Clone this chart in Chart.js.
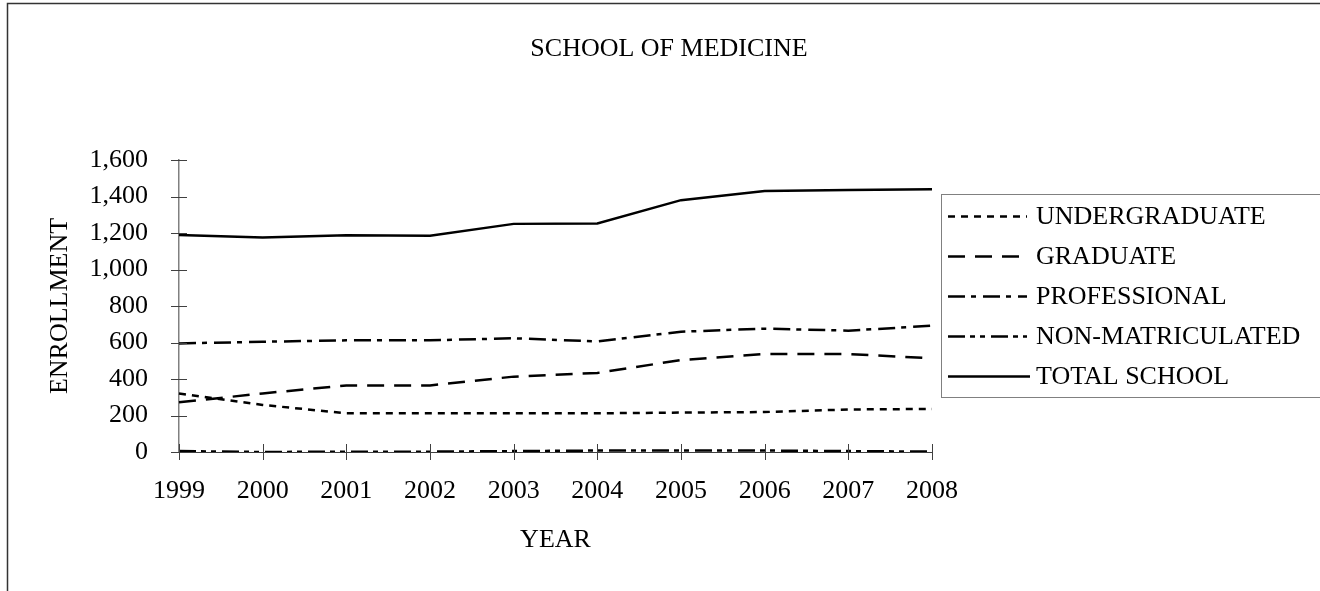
<!DOCTYPE html>
<html>
<head>
<meta charset="utf-8">
<script src="https://cdn.jsdelivr.net/npm/chart.js@4/dist/chart.umd.min.js"></script>
<style>
  html, body { margin: 0; padding: 0; background: #fff; }
  #wrap { width: 1320px; height: 591px; }
</style>
</head>
<body>
<div id="wrap"><canvas id="grafico" width="1320" height="591"></canvas></div>
<script>
// Datos
const years = ["1999", "2000", "2001", "2002", "2003", "2004", "2005", "2006", "2007", "2008"];
const undergraduate = [320, 258, 212, 212, 212, 212, 216, 219, 233, 236];
const graduate = [272, 321, 365, 365, 413, 433, 504, 537, 537, 513];
const professional = [595, 604, 612, 612, 623, 606, 659, 676, 665, 692];
const nonMatriculated = [5, 0, 2, 2, 5, 8, 8, 8, 5, 2];
const totalSchool = [1189, 1176, 1187, 1185, 1250, 1252, 1380, 1430, 1436, 1440];
const seriesNames = ["UNDERGRADUATE", "GRADUATE", "PROFESSIONAL", "NON-MATRICULATED", "TOTAL SCHOOL"];
const yTicks = [0, 200, 400, 600, 800, 1000, 1200, 1400, 1600];

const FONT = "'Liberation Serif', 'Times New Roman', serif";
const SIZE = 26;

function serie(label, data, dash) {
  return {
    label: label,
    data: data,
    borderColor: "#000",
    backgroundColor: "#000",
    borderWidth: 2.5,
    borderDash: dash,
    borderCapStyle: "butt",
    pointRadius: 0,
    tension: 0,
    fill: false,
  };
}

// titulo, marco, marcas de los ejes y leyenda
const extras = {
  id: "extras",
  beforeDraw(chart) {
    const ctx = chart.ctx;
    ctx.save();
    ctx.fillStyle = "#fff";
    ctx.fillRect(0, 0, chart.width, chart.height);
    ctx.strokeStyle = "#333";
    ctx.lineWidth = 1.5;
    ctx.beginPath();
    ctx.moveTo(7.5, chart.height + 5);
    ctx.lineTo(7.5, 3.5);
    ctx.lineTo(chart.width + 5, 3.5);
    ctx.stroke();
    ctx.restore();
  },
  afterDraw(chart) {
    const ctx = chart.ctx;
    const xs = chart.scales.x;
    const ys = chart.scales.y;
    ctx.save();

    // titulo
    ctx.fillStyle = "#000";
    ctx.font = SIZE + "px " + FONT;
    ctx.textAlign = "center";
    ctx.textBaseline = "middle";
    ctx.fillText("SCHOOL OF MEDICINE", 669, 49);

    // marcas de los ejes (cruzan el eje)
    ctx.strokeStyle = "#404040";
    ctx.lineWidth = 1;
    ctx.beginPath();
    ys.ticks.forEach((t, i) => {
      const py = Math.round(ys.getPixelForTick(i)) + 0.5;
      ctx.moveTo(ys.right - 8, py);
      ctx.lineTo(ys.right + 8, py);
    });
    xs.ticks.forEach((t, i) => {
      const px = Math.round(xs.getPixelForTick(i)) + 0.5;
      ctx.moveTo(px, xs.top - 8);
      ctx.lineTo(px, xs.top + 8);
    });
    ctx.stroke();

    // leyenda
    const bx = 941.5, by = 194.5, bw = 380, bh = 203;
    ctx.strokeStyle = "#808080";
    ctx.lineWidth = 1;
    ctx.strokeRect(bx, by, bw, bh);
    ctx.textAlign = "left";
    ctx.font = SIZE + "px " + FONT;
    chart.data.datasets.forEach((ds, i) => {
      const y = 216.5 + i * 40;
      ctx.strokeStyle = "#000";
      ctx.lineWidth = 2.5;
      ctx.setLineDash(ds.borderDash || []);
      ctx.beginPath();
      ctx.moveTo(948, y);
      ctx.lineTo(i === 4 ? 1030 : 1027, y);
      ctx.stroke();
      ctx.setLineDash([]);
      ctx.fillStyle = "#000";
      ctx.fillText(ds.label, 1036, y + 1);
    });
    ctx.restore();
  },
};

const config = {
  type: "line",
  data: {
    labels: years,
    datasets: [
      serie(seriesNames[0], undergraduate, [7, 6]),
      serie(seriesNames[1], graduate, [17, 10]),
      serie(seriesNames[2], professional, [17, 6, 5, 7]),
      serie(seriesNames[3], nonMatriculated, [17, 5, 5, 5, 5, 6]),
      serie(seriesNames[4], totalSchool, []),
    ],
  },
  plugins: [extras],
  options: {
    responsive: false,
    animation: false,
    locale: "en-US",
    layout: { padding: { top: 160, right: 388, bottom: 0, left: 0 } },
    plugins: {
      legend: { display: false },
      title: { display: false },
      tooltip: { enabled: false },
    },
    scales: {
      x: {
        offset: false,
        grid: { display: false },
        border: { color: "#404040", width: 1 },
        ticks: {
          color: "#000",
          font: { family: FONT, size: SIZE },
          padding: 16,
          maxRotation: 0,
          autoSkip: false,
        },
        title: {
          display: true,
          text: "YEAR",
          color: "#000",
          font: { family: FONT, size: SIZE },
          padding: { top: 0, bottom: 35 },
        },
        afterFit(scale) {
          scale.height = 139;
        },
      },
      y: {
        min: 0,
        max: 1600,
        grid: { display: false },
        border: { color: "#808080", width: 1.5 },
        afterBuildTicks(scale) {
          scale.ticks = yTicks.map((v) => ({ value: v }));
        },
        ticks: {
          color: "#000",
          font: { family: FONT, size: SIZE },
          padding: 23,
          callback: (v) => v.toLocaleString("en-US"),
        },
        title: {
          display: true,
          text: "ENROLLMENT",
          color: "#000",
          font: { family: FONT, size: SIZE },
          padding: { top: 45, bottom: 0 },
        },
        afterFit(scale) {
          scale.width = 179;
        },
      },
    },
  },
};

const grafico = new Chart(document.getElementById("grafico"), config);
</script>
</body>
</html>
